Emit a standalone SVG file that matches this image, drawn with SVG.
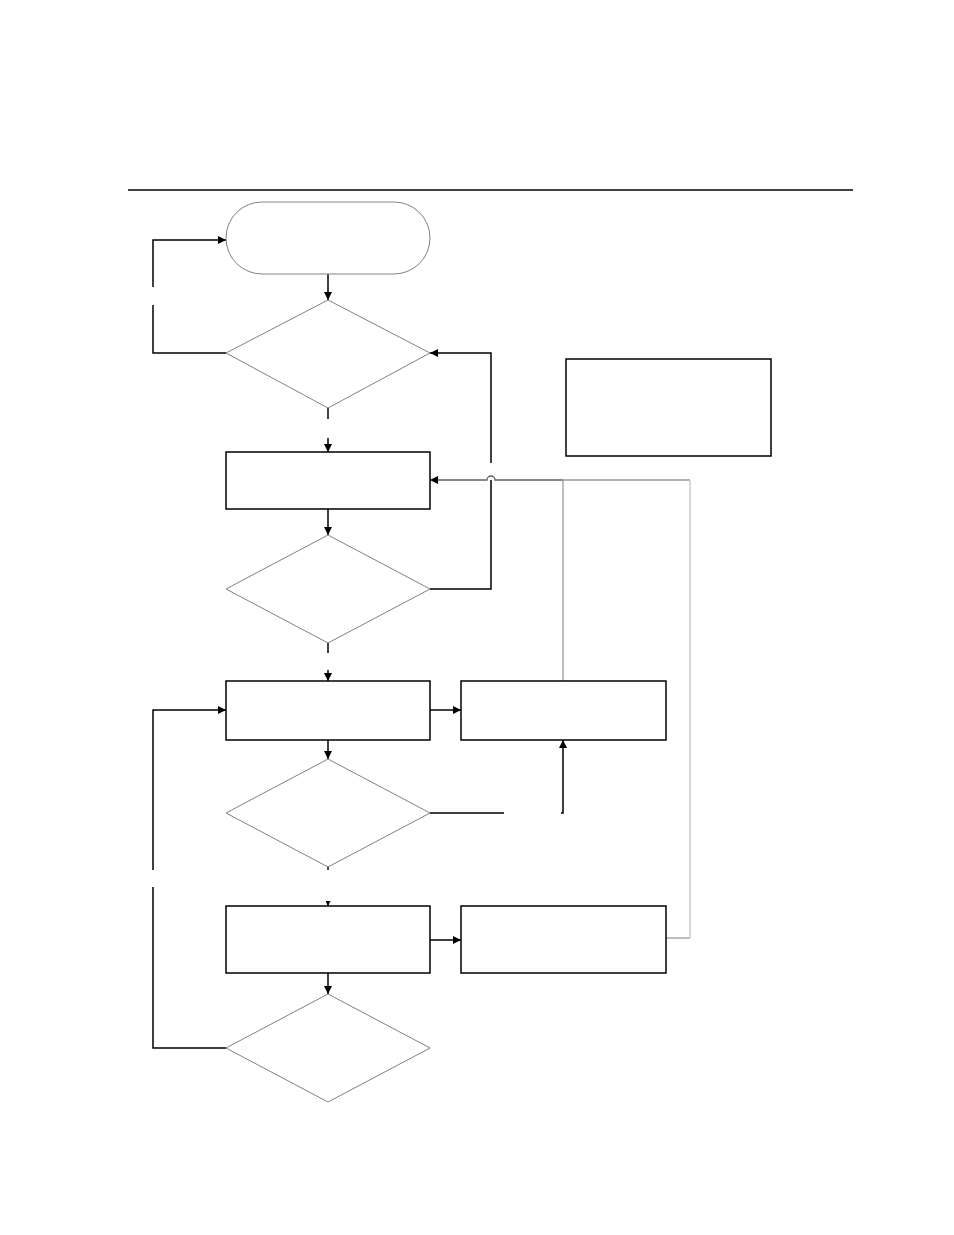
<svg xmlns="http://www.w3.org/2000/svg" width="954" height="1235" viewBox="0 0 954 1235">
<defs>
<style>
.box{fill:#fff;stroke:#000;stroke-width:1.5}
.dia{fill:#fff;stroke:#808080;stroke-width:1}
.term{fill:#fff;stroke:#808080;stroke-width:1}
.c{fill:none;stroke:#000;stroke-width:1.5}
.g1{fill:none;stroke:#606060;stroke-width:1.3}
.g2{fill:none;stroke:#999;stroke-width:1.3}
.g3{fill:none;stroke:#cfcfcf;stroke-width:1.6}
</style>
<marker id="a" viewBox="0 0 10 10" refX="10" refY="5" markerWidth="8" markerHeight="8" markerUnits="userSpaceOnUse" orient="auto">
<path d="M0,0 L10,5 L0,10 Z" fill="#000"/>
</marker>
<marker id="s" viewBox="0 0 10 10" refX="10" refY="5" markerWidth="5" markerHeight="5" markerUnits="userSpaceOnUse" orient="auto">
<path d="M0,0 L10,5 L0,10 Z" fill="#000"/>
</marker>
</defs>
<rect width="954" height="1235" fill="#fff"/>
<line x1="128" y1="190" x2="853" y2="190" stroke="#000" stroke-width="1.5"/>

<g id="connectors">
<line class="c" x1="328" y1="274" x2="328" y2="300" marker-end="url(#a)"/>
<line class="c" x1="328" y1="408" x2="328" y2="419"/>
<line class="c" x1="328" y1="438" x2="328" y2="452" marker-end="url(#a)"/>
<polyline class="c" points="226,353 153,353 153,305"/>
<polyline class="c" points="153,287 153,240 226,240" marker-end="url(#a)"/>
<polyline class="c" points="491,463 491,353 430,353" marker-end="url(#a)"/>
<polyline class="c" points="430,589 491,589 491,480"/>
<path class="g1" d="M563,480 L495,480 A4,4 0 0 0 487,480 L430,480" marker-end="url(#a)"/>
<line class="g2" x1="563" y1="480" x2="690" y2="480"/>
<line class="g2" x1="563" y1="480" x2="563" y2="681"/>
<line class="g3" x1="690" y1="480" x2="690" y2="938"/>
<line class="g2" x1="666" y1="938" x2="690" y2="938"/>
<line class="c" x1="328" y1="509" x2="328" y2="535" marker-end="url(#a)"/>
<line class="c" x1="328" y1="643" x2="328" y2="653"/>
<line class="c" x1="328" y1="670" x2="328" y2="681" marker-end="url(#a)"/>
<line class="c" x1="430" y1="710" x2="461" y2="710" marker-end="url(#a)"/>
<line class="c" x1="328" y1="740" x2="328" y2="759" marker-end="url(#a)"/>
<line class="c" x1="430" y1="813" x2="504" y2="813"/>
<polyline class="c" points="561,813 563,813 563,740" marker-end="url(#a)"/>
<line class="c" x1="328" y1="867" x2="328" y2="870"/>
<line class="c" x1="328" y1="902" x2="328" y2="906" marker-end="url(#s)"/>
<polyline class="c" points="153,870 153,710 226,710" marker-end="url(#a)"/>
<polyline class="c" points="226,1048 153,1048 153,887"/>
<line class="c" x1="430" y1="940" x2="461" y2="940" marker-end="url(#a)"/>
<line class="c" x1="328" y1="973" x2="328" y2="994" marker-end="url(#a)"/>
</g>

<g id="start"><rect class="term" x="226" y="202" width="204" height="72" rx="36" ry="36"/></g>
<g id="decision1"><polygon class="dia" points="328,300 430,353 328,408 226,353"/></g>
<g id="note"><rect class="box" x="566" y="359" width="205" height="97"/></g>
<g id="process1"><rect class="box" x="226" y="452" width="204" height="57"/></g>
<g id="decision2"><polygon class="dia" points="328,535 430,589 328,643 226,589"/></g>
<g id="process2"><rect class="box" x="226" y="681" width="204" height="59"/></g>
<g id="process3"><rect class="box" x="461" y="681" width="205" height="59"/></g>
<g id="decision3"><polygon class="dia" points="328,759 430,813 328,867 226,813"/></g>
<g id="process4"><rect class="box" x="226" y="906" width="204" height="67"/></g>
<g id="process5"><rect class="box" x="461" y="906" width="205" height="67"/></g>
<g id="decision4"><polygon class="dia" points="328,994 430,1048 328,1102 226,1048"/></g>
</svg>
